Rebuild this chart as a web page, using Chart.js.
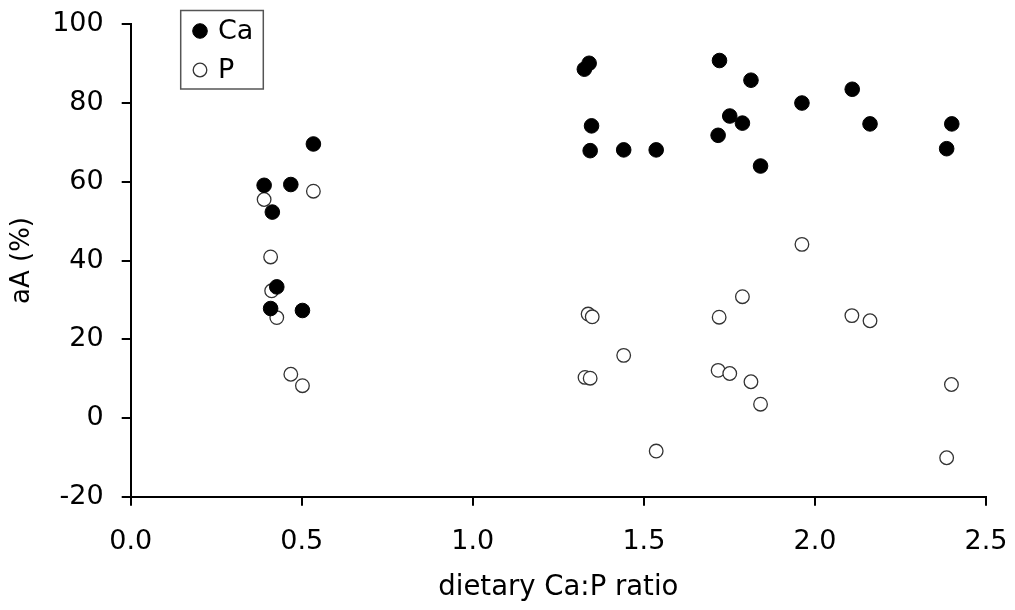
<!DOCTYPE html>
<html>
<head>
<meta charset="utf-8">
<script src="https://cdn.jsdelivr.net/npm/chart.js@4.4.1/dist/chart.umd.min.js"></script>
<style>
  html, body { margin: 0; padding: 0; background: #ffffff; }
  #wrap { width: 1015px; height: 610px; position: relative; }
  canvas { display: block; }
</style>
</head>
<body>
<div id="wrap"><canvas id="c" width="1015" height="610"></canvas></div>
<script>
// ---- data ----
const seriesNames = ['Ca', 'P'];
const caX = [0.390, 0.468, 0.534, 0.414, 0.427, 0.409, 0.502,
             1.326, 1.340, 1.347, 1.343, 1.441, 1.536, 1.717, 1.721, 1.751, 1.788, 1.813, 1.841, 1.962, 2.109, 2.161, 2.385, 2.400];
const caY = [59.1, 59.3, 69.6, 52.3, 33.3, 27.8, 27.3,
             88.6, 90.1, 74.2, 67.9, 68.1, 68.1, 71.8, 90.8, 76.7, 74.9, 85.8, 64.0, 80.0, 83.5, 74.7, 68.4, 74.7];
const pX  = [0.390, 0.534, 0.409, 0.412, 0.427, 0.468, 0.502,
             1.328, 1.337, 1.343, 1.349, 1.441, 1.536, 1.717, 1.720, 1.751, 1.788, 1.813, 1.841, 1.962, 2.108, 2.161, 2.385, 2.399];
const pY  = [55.5, 57.6, 40.9, 32.3, 25.5, 11.1, 8.2,
             10.3, 26.4, 10.1, 25.7, 15.9, -8.4, 12.1, 25.6, 11.3, 30.8, 9.2, 3.5, 44.1, 26.0, 24.7, -10.1, 8.5];
const xTickValues = [0, 0.5, 1.0, 1.5, 2.0, 2.5];
const xTickLabels = ['0.0', '0.5', '1.0', '1.5', '2.0', '2.5'];
const yTickValues = [-20, 0, 20, 40, 60, 80, 100];
const yTickLabels = ['-20', '0', '20', '40', '60', '80', '100'];
const xTitle = 'dietary Ca:P ratio';
const yTitle = 'aA (%)';

const FONT = '"DejaVu Sans", Verdana, sans-serif';

function pts(xs, ys) { return xs.map((x, i) => ({ x: x, y: ys[i] })); }

const legendBox = {
  id: 'legendBox',
  afterDraw(chart) {
    const ctx = chart.ctx;
    ctx.save();
    ctx.strokeStyle = '#555555';
    ctx.lineWidth = 1.5;
    ctx.strokeRect(180.7, 10.5, 82.6, 78.5);
    const rows = [31, 70];
    chart.data.datasets.forEach((ds, i) => {
      const y = rows[i];
      ctx.fillStyle = ds.pointBackgroundColor;
      ctx.strokeStyle = ds.pointBorderColor;
      ctx.lineWidth = ds.pointBorderWidth;
      Chart.helpers.drawPoint(ctx, { pointStyle: 'circle', radius: ds.pointRadius, borderWidth: ds.pointBorderWidth, rotation: 0 }, 200, y);
      ctx.fillStyle = '#000000';
      ctx.font = '27px ' + FONT;
      ctx.textBaseline = 'middle';
      ctx.textAlign = 'left';
      ctx.fillText(ds.label, 218, y + 1);
    });
    ctx.restore();
  }
};

new Chart(document.getElementById('c'), {
  type: 'scatter',
  data: {
    datasets: [
      {
        label: seriesNames[0],
        data: pts(caX, caY),
        pointRadius: 7.3,
        pointHoverRadius: 7.3,
        pointBackgroundColor: '#000000',
        pointBorderColor: '#000000',
        pointBorderWidth: 1
      },
      {
        label: seriesNames[1],
        data: pts(pX, pY),
        pointRadius: 6.8,
        pointHoverRadius: 6.8,
        pointBackgroundColor: '#ffffff',
        pointBorderColor: '#333333',
        pointBorderWidth: 1.3
      }
    ]
  },
  options: {
    responsive: false,
    animation: false,
    devicePixelRatio: 1,
    layout: { padding: { top: 24.3, right: 29, bottom: 0, left: 0 } },
    plugins: {
      legend: { display: false },
      tooltip: { enabled: false }
    },
    scales: {
      x: {
        type: 'linear',
        min: 0, max: 2.5,
        afterBuildTicks(scale) { scale.ticks = xTickValues.map(v => ({ value: v })); },
        afterFit(scale) { scale.height = 113.3; scale.paddingLeft = 0; scale.paddingRight = 0; },
        ticks: {
          callback: (v, i) => xTickLabels[i],
          color: '#000000',
          font: { family: FONT, size: 27 },
          padding: 20,
          maxRotation: 0,
          autoSkip: false
        },
        grid: { display: true, drawOnChartArea: false, drawTicks: true, tickLength: 9, color: '#000000', lineWidth: 2 },
        border: { display: true, color: '#000000', width: 2 },
        title: { display: true, text: xTitle, color: '#000000', font: { family: FONT, size: 27.5 }, padding: { top: 0, bottom: 6 } }
      },
      y: {
        type: 'linear',
        min: -20, max: 100,
        afterBuildTicks(scale) { scale.ticks = yTickValues.map(v => ({ value: v })); },
        afterFit(scale) { scale.width = 130.7; scale.paddingTop = 0; scale.paddingBottom = 0; },
        ticks: {
          callback: (v, i) => yTickLabels[i],
          color: '#000000',
          font: { family: FONT, size: 27 },
          padding: 18,
          autoSkip: false
        },
        grid: { display: true, drawOnChartArea: false, drawTicks: true, tickLength: 9, color: '#000000', lineWidth: 2 },
        border: { display: true, color: '#000000', width: 2 },
        title: { display: true, text: yTitle, color: '#000000', font: { family: FONT, size: 26 }, padding: { top: 7, bottom: 0 } }
      }
    }
  },
  plugins: [legendBox]
});
</script>
</body>
</html>
